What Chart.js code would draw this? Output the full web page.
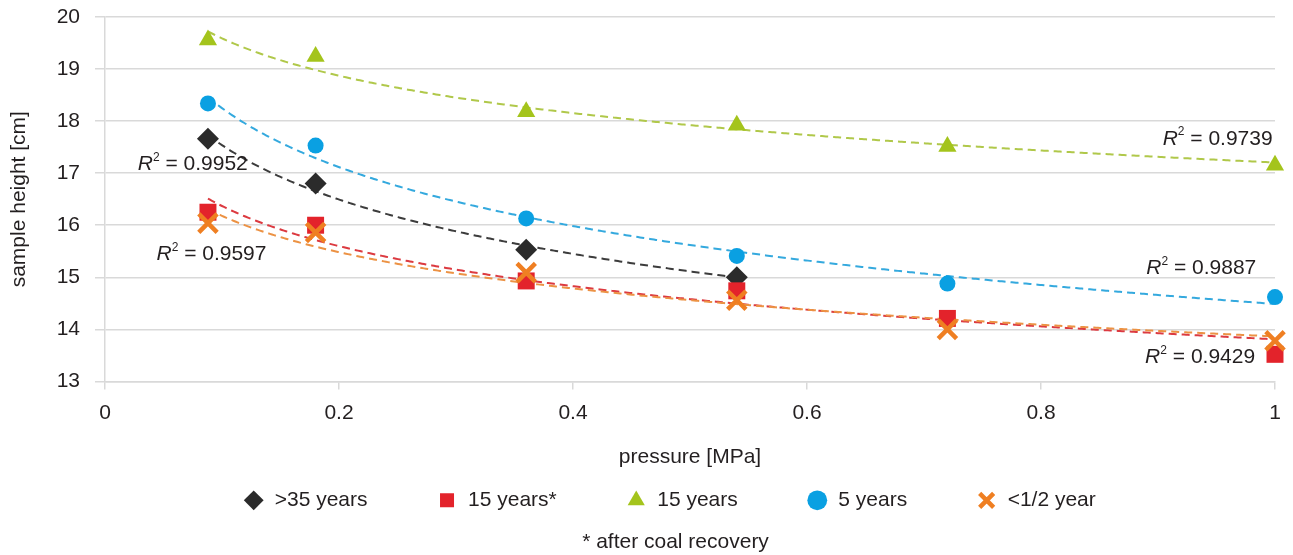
<!DOCTYPE html>
<html><head><meta charset="utf-8">
<script src="https://cdn.jsdelivr.net/npm/chart.js@4.4.1/dist/chart.umd.min.js"></script>
<style>html,body{margin:0;padding:0;background:#fff}#wrap{width:1293px;height:555px}</style>
</head><body><div id="wrap"><canvas id="c" width="1293" height="555"></canvas></div>
<script>
// ---- data ----
const seriesNames = ['>35 years', '15 years*', '15 years', '5 years', '<1/2 year'];
const pressureShort = [0.088, 0.18, 0.36, 0.54];
const pressureFull = [0.088, 0.18, 0.36, 0.54, 0.72, 1.0];
const heightOver35 = [17.66, 16.8, 15.53, 15.0];
const height15Recovery = [16.25, 16.0, 14.93, 14.74, 14.21, 13.52];
const height15 = [19.56, 19.24, 18.18, 17.92, 17.51, 17.15];
const height5 = [18.34, 17.53, 16.13, 15.41, 14.88, 14.62];
const heightHalfYear = [16.04, 15.86, 15.09, 14.56, 14.0, 13.78];
const r2Values = ['0.9952', '0.9597', '0.9739', '0.9887', '0.9429'];
const xTicks = [0, 0.2, 0.4, 0.6, 0.8, 1];
const xTickLabels = ['0', '0.2', '0.4', '0.6', '0.8', '1'];
const yTicks = [13, 14, 15, 16, 17, 18, 19, 20];
const footnote = '* after coal recovery';

// ---- styles / layout (kept apart from data) ----
const FONT = '"Liberation Sans", Arial, sans-serif';
const TEXT = '#231f20';
const GRID = '#d9d9d9';
const markerColors = ['#2b2b2b', '#e3232b', '#a4c41c', '#0aa0e2', '#ef7f22'];
const trendColors = ['#3c3c3c', '#dc3a40', '#b0c84a', '#34a9de', '#ec9244'];
const pointStyles = ['rectRot', 'rect', 'triangle', 'circle', 'crossRot'];
const pointRadii = [11, 12, 10.5, 8, 13];
const r2Anchors = [
  {x: 0.028, y: 17.17, align: 'left'},
  {x: 0.044, y: 15.44, align: 'left'},
  {x: 0.998, y: 17.66, align: 'right'},
  {x: 0.984, y: 15.17, align: 'right'},
  {x: 0.983, y: 13.46, align: 'right'}
];

const seriesX = [pressureShort, pressureFull, pressureFull, pressureFull, pressureFull];
const seriesY = [heightOver35, height15Recovery, height15, height5, heightHalfYear];

const datasets = seriesNames.map((name, i) => ({
  label: name,
  data: seriesX[i].map((x, k) => ({x, y: seriesY[i][k]})),
  pointStyle: pointStyles[i],
  pointRadius: pointRadii[i],
  pointHoverRadius: pointRadii[i],
  backgroundColor: markerColors[i],
  borderColor: markerColors[i],
  borderWidth: pointStyles[i] === 'crossRot' ? 4.5 : 0,
  pointBorderWidth: pointStyles[i] === 'crossRot' ? 4.5 : 0,
  clip: false,
  order: 5 - i
}));

function logFit(xs, ys) {
  const n = xs.length;
  const lx = xs.map(Math.log);
  const mx = lx.reduce((a, b) => a + b, 0) / n;
  const my = ys.reduce((a, b) => a + b, 0) / n;
  let sxy = 0, sxx = 0;
  for (let i = 0; i < n; i++) { sxy += (lx[i] - mx) * (ys[i] - my); sxx += (lx[i] - mx) ** 2; }
  const a = sxy / sxx, b = my - a * mx;
  return x => a * Math.log(x) + b;
}

const trendPlugin = {
  id: 'trend',
  beforeDatasetsDraw(chart) {
    const {ctx, chartArea, scales: {x, y}} = chart;
    ctx.save();
    ctx.beginPath();
    ctx.rect(chartArea.left, chartArea.top, chartArea.right - chartArea.left, chartArea.bottom - chartArea.top);
    ctx.clip();
    seriesX.forEach((xs, i) => {
      const f = logFit(xs, seriesY[i]);
      const x0 = xs[0], x1 = xs[xs.length - 1];
      const p0 = x.getPixelForValue(x0), p1 = x.getPixelForValue(x1);
      ctx.beginPath();
      for (let px = p0; px <= p1 + 0.01; px += 2) {
        const v = x.getValueForPixel(Math.min(px, p1));
        const py = y.getPixelForValue(f(v));
        if (px === p0) ctx.moveTo(px, py); else ctx.lineTo(px, py);
      }
      ctx.strokeStyle = trendColors[i];
      ctx.lineWidth = 2;
      ctx.setLineDash([8, 5]);
      ctx.stroke();
    });
    ctx.restore();
  }
};

const r2Plugin = {
  id: 'r2',
  afterDatasetsDraw(chart) {
    const {ctx, scales: {x, y}} = chart;
    ctx.save();
    ctx.fillStyle = TEXT;
    ctx.textBaseline = 'middle';
    ctx.textAlign = 'left';
    r2Values.forEach((val, i) => {
      const a = r2Anchors[i];
      const px = x.getPixelForValue(a.x), py = y.getPixelForValue(a.y);
      const rest = ' = ' + val;
      ctx.font = 'italic 21px ' + FONT; const wR = ctx.measureText('R').width;
      ctx.font = '12px ' + FONT; const w2 = ctx.measureText('2').width;
      ctx.font = '21px ' + FONT; const wRest = ctx.measureText(rest).width;
      const total = wR + w2 + wRest;
      const sx = a.align === 'left' ? px : px - total;
      ctx.font = 'italic 21px ' + FONT; ctx.fillText('R', sx, py);
      ctx.font = '12px ' + FONT; ctx.fillText('2', sx + wR, py - 7);
      ctx.font = '21px ' + FONT; ctx.fillText(rest, sx + wR + w2, py);
    });
    ctx.restore();
  }
};

const placePlugin = {
  id: 'place',
  afterLayout(chart) {
    const lg = chart.legend;
    const xs = chart.scales.x;
    const pad = lg.options.labels.padding;
    const itemTop = xs.bottom + 20;
    lg.top = itemTop - pad;
    lg.height = pad + 21 + 10;
    lg.bottom = lg.top + lg.height;
    lg.left = chart.chartArea.left - 41;
    lg.right = chart.chartArea.right;
    lg.width = lg.right - lg.left;
    chart.boxes.forEach(b => {
      if (b !== lg && b.options && b.options.text === footnote) {
        b.left = chart.chartArea.left - 29;
        b.right = chart.chartArea.right;
        b.width = b.right - b.left;
      }
    });
  }
};

new Chart(document.getElementById('c'), {
  type: 'scatter',
  data: {datasets},
  plugins: [trendPlugin, r2Plugin, placePlugin],
  options: {
    responsive: false,
    animation: false,
    events: [],
    layout: {autoPadding: false, padding: {left: 0, right: 18, top: 17, bottom: 0}},
    scales: {
      x: {
        type: 'linear', min: 0, max: 1,
        afterBuildTicks: s => { s.ticks = xTicks.map(v => ({value: v})); },
        ticks: {padding: 11, color: TEXT, font: {family: FONT, size: 21}, maxRotation: 0, autoSkip: false,
                callback: (v, i) => xTickLabels[i]},
        grid: {drawOnChartArea: false, tickLength: 8, color: GRID, lineWidth: 1.5},
        border: {color: GRID, width: 1.5},
        title: {display: true, text: 'pressure [MPa]', color: TEXT, font: {family: FONT, size: 21},
                padding: {top: 8, bottom: 0}}
      },
      y: {
        min: 13, max: 20,
        afterBuildTicks: s => { s.ticks = yTicks.map(v => ({value: v})); },
        afterFit: s => { s.width = 105; s.paddingTop = 0; s.paddingBottom = 0; },
        ticks: {padding: 15, color: TEXT, font: {family: FONT, size: 21}},
        grid: {tickLength: 10, color: GRID, lineWidth: 1.5},
        border: {color: GRID, width: 1.5},
        title: {display: true, text: 'sample height [cm]', color: TEXT, font: {family: FONT, size: 21},
                padding: {top: 7, bottom: 0}}
      }
    },
    plugins: {
      legend: {
        position: 'bottom',
        maxHeight: 60,
        labels: {
          usePointStyle: true, boxWidth: 21, boxHeight: 14, padding: 69,
          color: TEXT, font: {family: FONT, size: 21},
          sort: (a, b) => a.datasetIndex - b.datasetIndex
        }
      },
      subtitle: {
        display: true, position: 'bottom', text: footnote, color: TEXT,
        font: {family: FONT, size: 21, weight: 'normal'}, padding: {top: 0, bottom: 0}
      },
      tooltip: {enabled: false}
    }
  }
});
</script>
</body></html>
